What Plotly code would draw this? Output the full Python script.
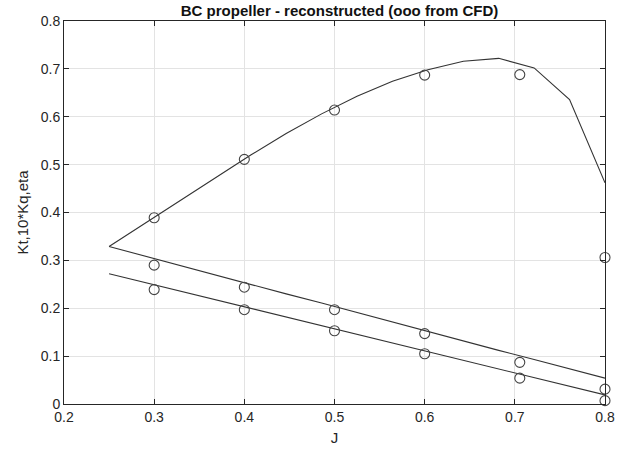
import numpy as np
import plotly.graph_objects as go

# Reconstructed curves (15 J values)
J_curve = [0.25, 0.2893, 0.3286, 0.3679, 0.4071, 0.4464, 0.4857, 0.525,
           0.5643, 0.6036, 0.6429, 0.6821, 0.7214, 0.7607, 0.8]
eta_curve = [0.329, 0.377, 0.425, 0.473, 0.520, 0.565, 0.606, 0.643,
             0.674, 0.698, 0.716, 0.722, 0.702, 0.636, 0.462]
kq10_curve = [0.329, 0.309, 0.289, 0.270, 0.250, 0.230, 0.211, 0.191,
              0.171, 0.152, 0.132, 0.112, 0.093, 0.073, 0.054]
kt_curve = [0.272, 0.254, 0.236, 0.218, 0.200, 0.182, 0.164, 0.146,
            0.127, 0.109, 0.091, 0.073, 0.055, 0.037, 0.019]

# CFD points
J_cfd = [0.3, 0.4, 0.5, 0.6, 0.7055, 0.8]
eta_cfd = [0.389, 0.511, 0.614, 0.687, 0.688, 0.306]
kq10_cfd = [0.290, 0.244, 0.197, 0.147, 0.087, 0.031]
kt_cfd = [0.239, 0.197, 0.153, 0.105, 0.054, 0.007]

x_ticks = [0.2, 0.3, 0.4, 0.5, 0.6, 0.7, 0.8]
y_ticks = [0, 0.1, 0.2, 0.3, 0.4, 0.5, 0.6, 0.7, 0.8]

line_color = "#333333"
fig = go.Figure()
for yc in (eta_curve, kq10_curve, kt_curve):
    fig.add_trace(go.Scatter(x=J_curve, y=yc, mode="lines",
                             line=dict(color=line_color, width=1.1),
                             showlegend=False, cliponaxis=False))
for yp in (eta_cfd, kq10_cfd, kt_cfd):
    fig.add_trace(go.Scatter(x=J_cfd, y=yp, mode="markers",
                             marker=dict(symbol="circle-open", size=10,
                                         color="#444444",
                                         line=dict(width=1.1, color="#444444")),
                             showlegend=False, cliponaxis=False))

axis_common = dict(showgrid=True, gridcolor="#e3e3e3", gridwidth=1,
                   ticks="inside", ticklen=5, tickcolor="#262626",
                   showline=True, linecolor="#262626", linewidth=1,
                   mirror="ticks", zeroline=False,
                   tickfont=dict(family="Liberation Sans, Arial, sans-serif",
                                 size=14, color="#262626"))

fig.update_layout(
    width=626, height=454,
    margin=dict(l=64, r=11, t=21, b=50),
    paper_bgcolor="white", plot_bgcolor="white",
    title=dict(text="<b>BC propeller - reconstructed (ooo from CFD)</b>",
               x=(64 + 615) / 2 / 626, xanchor="center", y=1 - 11 / 454,
               yanchor="middle",
               font=dict(family="Liberation Sans, Arial, sans-serif",
                         size=15, color="#111111")),
    xaxis=dict(range=[0.2, 0.8], tickvals=x_ticks,
               ticktext=[f"{v:g}" for v in x_ticks],
               title=dict(text="J", standoff=8,
                          font=dict(family="Liberation Sans, Arial, sans-serif",
                                    size=15, color="#262626")),
               **axis_common),
    yaxis=dict(range=[0, 0.8], tickvals=y_ticks,
               ticktext=[f"{v:g}" for v in y_ticks],
               title=dict(text="Kt,10*Kq,eta", standoff=8,
                          font=dict(family="Liberation Sans, Arial, sans-serif",
                                    size=15, color="#262626")),
               **axis_common),
)

fig.write_html("out.html")
